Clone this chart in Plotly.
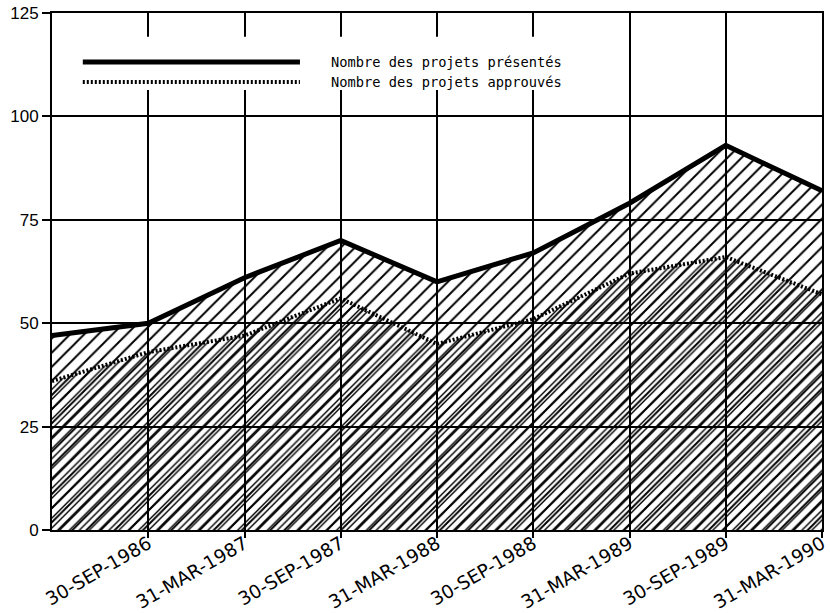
import plotly.graph_objects as go

periods = ["31-MAR-1986", "30-SEP-1986", "31-MAR-1987", "30-SEP-1987", "31-MAR-1988",
           "30-SEP-1988", "31-MAR-1989", "30-SEP-1989", "31-MAR-1990"]
presentes = [47, 50, 61, 70, 60, 67, 79, 93, 82]
approuves = [36, 43, 47, 56, 45, 51, 62, 66, 57]
y_ticks = [0, 25, 50, 75, 100, 125]

xs = list(range(len(periods)))

fig = go.Figure()
fig.add_trace(go.Scatter(
    x=xs, y=presentes, mode="lines", fill="tozeroy",
    line=dict(color="black", width=5),
    fillcolor="rgba(0,0,0,0)",
    fillpattern=dict(shape="/", size=10, solidity=0.2, fgcolor="black", fgopacity=1,
                     bgcolor="rgba(0,0,0,0)"),
    name="Nombre des projets présentés", showlegend=False))
fig.add_trace(go.Scatter(
    x=xs, y=approuves, mode="lines", fill="tozeroy",
    line=dict(color="black", width=4, dash="2px,2px"),
    fillcolor="rgba(0,0,0,0)",
    fillpattern=dict(shape="/", size=7, solidity=0.2, fgcolor="black", fgopacity=1,
                     bgcolor="rgba(0,0,0,0)"),
    name="Nombre des projets approuvés", showlegend=False))

# legend box
fig.add_shape(type="rect", xref="paper", yref="paper", x0=0.013, x1=0.68, y0=0.851, y1=0.954,
              fillcolor="white", line=dict(width=0), layer="above")
fig.add_shape(type="line", xref="paper", yref="paper", x0=0.04, x1=0.322, y0=0.905, y1=0.905,
              line=dict(color="black", width=5), layer="above")
fig.add_shape(type="line", xref="paper", yref="paper", x0=0.04, x1=0.322, y0=0.8665, y1=0.8665,
              line=dict(color="black", width=4, dash="2px,2px"), layer="above")
fig.add_annotation(xref="paper", yref="paper", x=0.36, y=0.905, xanchor="left", yanchor="middle",
                   text="Nombre des projets présentés", showarrow=False,
                   font=dict(family="DejaVu Sans Mono", size=13.7, color="black"))
fig.add_annotation(xref="paper", yref="paper", x=0.36, y=0.8665, xanchor="left", yanchor="middle",
                   text="Nombre des projets approuvés", showarrow=False,
                   font=dict(family="DejaVu Sans Mono", size=13.7, color="black"))

fig.update_layout(
    width=830, height=613,
    margin=dict(l=52, r=8, t=13, b=83),
    paper_bgcolor="white", plot_bgcolor="white",
    xaxis=dict(range=[0, len(periods) - 1], tickmode="array", tickvals=xs[1:], ticktext=periods[1:],
               tickangle=-30, showgrid=True, gridcolor="black", gridwidth=1.5, automargin=False,
               showline=True, linecolor="black", linewidth=2, mirror=True,
               ticks="outside", ticklen=6, tickcolor="black", tickwidth=2, ticklabelstandoff=-12,
               tickfont=dict(family="DejaVu Sans", size=18.5, color="black"), zeroline=False),
    yaxis=dict(range=[0, 125], tickmode="array", tickvals=y_ticks, automargin=False,
               showgrid=True, gridcolor="black", gridwidth=1.5,
               showline=True, linecolor="black", linewidth=2, mirror=True,
               ticks="outside", ticklen=8, tickcolor="black", tickwidth=2,
               tickfont=dict(family="Liberation Sans", size=17, color="black"), zeroline=False),
)

fig.write_html("out.html", config={"displayModeBar": False},
               post_script="document.body.style.margin='0';")
